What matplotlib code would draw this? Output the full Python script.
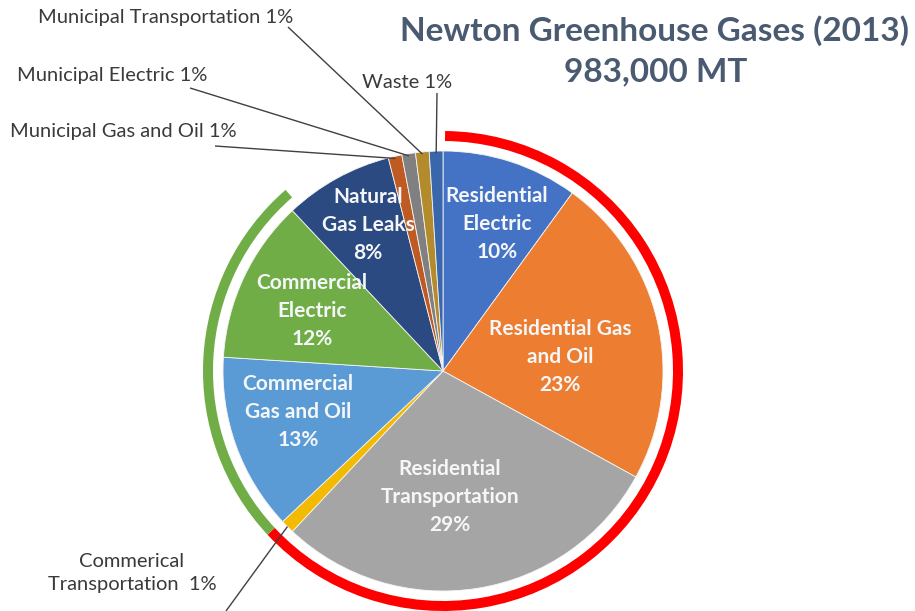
import numpy as np
import matplotlib
matplotlib.use("Agg")
import matplotlib.pyplot as plt
from matplotlib.patches import Wedge

# Newton greenhouse gas emissions, 2013 (percent of 983,000 MT)
categories = [
    "Residential Electric",
    "Residential Gas and Oil",
    "Residential Transportation",
    "Commerical Transportation",
    "Commercial Gas and Oil",
    "Commercial Electric",
    "Natural Gas Leaks",
    "Municipal Gas and Oil",
    "Municipal Electric",
    "Municipal Transportation",
    "Waste",
]
shares = [10, 23, 29, 1, 13, 12, 8, 1, 1, 1, 1]
colors = [
    "#4472C4", "#ED7D31", "#A5A5A5", "#F2BA00", "#5B9BD5", "#70AD47",
    "#2B4A82", "#BE5A22", "#808080", "#B38A2C", "#3A67AC",
]

W, H = 915, 611
fig = plt.figure(figsize=(W / 100, H / 100), dpi=100)
ax = fig.add_axes([0, 0, 1, 1])

cx, cy, R = 443, H - 371, 220

ax.pie(shares, colors=colors, startangle=90, counterclock=False,
       center=(cx, cy), radius=R,
       wedgeprops=dict(edgecolor="#f4f4f4", linewidth=0.6))

ax.set_xlim(0, W)
ax.set_ylim(0, H)
ax.set_aspect("equal")
ax.axis("off")

# Sector brackets: residential (red) and commercial (green)
ring_r, ring_w = 240, 10
ax.add_patch(Wedge((cx, cy), ring_r, -137, 89.5, width=ring_w,
                   facecolor="#FF0000", edgecolor="none"))
ax.add_patch(Wedge((cx, cy), ring_r, 131, 223, width=ring_w,
                   facecolor="#70AD47", edgecolor="none"))

total = float(sum(shares))
cum = np.cumsum([0] + shares[:-1])


def edge_point(i, frac=1.0):
    mid = cum[i] + shares[i] / 2.0
    ang = np.deg2rad(90 - 360.0 * mid / total)
    return cx + frac * R * np.cos(ang), cy + frac * R * np.sin(ang)


# In-slice labels
inside = {
    0: ((497, 224), "Residential\nElectric"),
    1: ((560, 357), "Residential Gas\nand Oil"),
    2: ((450, 497), "Residential\nTransportation"),
    4: ((298, 412), "Commercial\nGas and Oil"),
    5: ((312, 311), "Commercial\nElectric"),
    6: ((368, 225), "Natural\nGas Leaks"),
}
for i, ((x, y), name) in inside.items():
    ax.text(x, H - y, f"{name}\n{shares[i]}%", ha="center", va="center",
            family="Lato", weight="bold", fontsize=15, color="#F4F6F8",
            linespacing=1.52)

# Outside labels with leader lines
line_kw = dict(color="#404040", lw=1.0, solid_capstyle="butt")
txt_kw = dict(family="Lato", fontsize=14.5, color="#3A3A3A")

outside = [
    (9, (38, 18), (288, 27), "left"),
    (8, (17, 75), (190, 88), "left"),
    (7, (10, 132), (215, 146), "left"),
    (10, (362, 82), (437, 93), "left"),
]
for i, (tx, ty), (lx, ly), ha in outside:
    ax.text(tx, H - ty, f"{categories[i]} {shares[i]}%", ha=ha, va="center",
            **txt_kw)
    px, py = edge_point(i, 0.99)
    ax.plot([lx, px], [H - ly, py], **line_kw)

ax.text(132, H - 573, f"Commerical\nTransportation  {shares[3]}%",
        ha="center", va="center", linespacing=1.45, **txt_kw)
px, py = edge_point(3, 1.0)
ax.plot([226, px], [0, py], **line_kw)

# Title
title_kw = dict(ha="center", va="center", family="Lato", weight="bold",
                fontsize=24, color="#4A5A70")
ax.text(655, H - 31, "Newton Greenhouse Gases (2013)", **title_kw)
ax.text(656, H - 72, "983,000 MT", **title_kw)

fig.savefig("out.png", dpi=100, facecolor="white")
